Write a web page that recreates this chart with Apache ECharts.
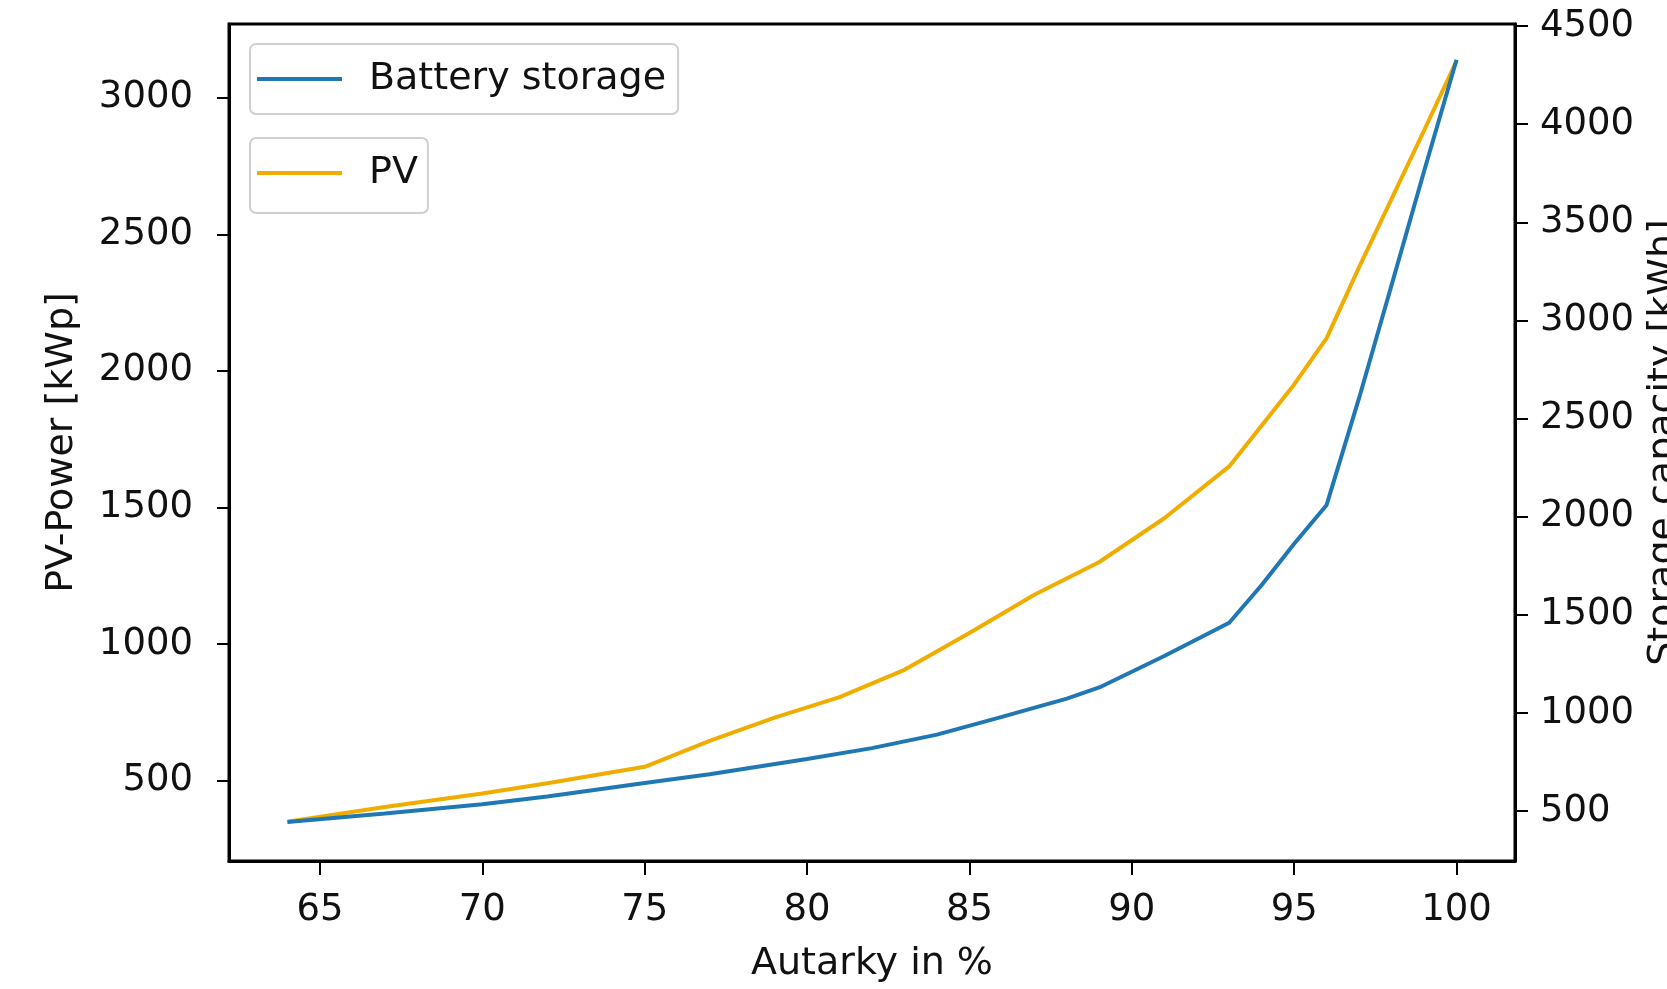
<!DOCTYPE html>
<html>
<head>
<meta charset="utf-8">
<script src="https://cdn.jsdelivr.net/npm/echarts@6/dist/echarts.min.js"></script>
<style>
html,body{margin:0;padding:0;background:#fff;}
#chart{width:1667px;height:989px;}
</style>
</head>
<body>
<div id="chart"></div>
<script>
// Data
const pvAutarky = [64, 67, 70, 72, 75, 77, 79, 81, 83, 85, 87, 89, 91, 93, 95, 96, 97, 98, 99, 100];
const pvPower   = [349, 403, 452, 490, 550, 645, 730, 805, 905, 1040, 1180, 1300, 1460, 1650, 1950, 2120, 2380, 2630, 2880, 3135];
const batAutarky = [64, 67, 70, 72, 75, 77, 80, 82, 84, 86, 88, 89, 91, 93, 94, 95, 96, 97, 98, 99, 100];
const batCapacity = [445, 488, 535, 575, 643, 688, 766, 821, 890, 980, 1073, 1130, 1290, 1460, 1652, 1862, 2060, 2605, 3180, 3760, 4328];
const xTicks = [65, 70, 75, 80, 85, 90, 95, 100];
const yLeftTicks = [500, 1000, 1500, 2000, 2500, 3000];
const yRightTicks = [500, 1000, 1500, 2000, 2500, 3000, 3500, 4000, 4500];

const pvData = pvAutarky.map((x, i) => [x, pvPower[i]]);
const batData = batAutarky.map((x, i) => [x, batCapacity[i]]);

const FONT = 'DejaVu Sans';
const TXT = '#111';
const FS = 37;
const plain = v => String(v);

const chart = echarts.init(document.getElementById('chart'), null, {renderer: 'canvas'});
chart.setOption({
  backgroundColor: '#fff',
  animation: false,
  textStyle: {fontFamily: FONT, color: TXT},
  grid: {left: 229, right: 152, top: 24, bottom: 128, outerBoundsMode: 'none', containLabel: false,
         show: true, borderColor: '#000', borderWidth: 3, backgroundColor: 'transparent'},
  legend: [
    {
      data: ['Battery storage'],
      left: 250, top: 44,
      orient: 'vertical',
      icon: 'rect',
      itemWidth: 85, itemHeight: 4,
      padding: [16, 12, 16, 7],
      borderColor: '#cfcfcf', borderWidth: 2, borderRadius: 6,
      backgroundColor: 'rgba(255,255,255,0.85)',
      textStyle: {fontFamily: FONT, fontSize: 38, color: TXT, padding: [0, 0, 0, 22]}
    },
    {
      data: ['PV'],
      left: 250, top: 138,
      orient: 'vertical',
      icon: 'rect',
      itemWidth: 85, itemHeight: 4,
      padding: [16, 10, 21, 7],
      borderColor: '#cfcfcf', borderWidth: 2, borderRadius: 6,
      backgroundColor: 'rgba(255,255,255,0.85)',
      textStyle: {fontFamily: FONT, fontSize: 38, color: TXT, padding: [0, 0, 0, 22]}
    }
  ],
  xAxis: {
    type: 'value',
    min: 62.2, max: 101.8,
    name: 'Autarky in %',
    nameLocation: 'middle',
    nameGap: 84,
    nameTextStyle: {fontFamily: FONT, fontSize: 38, color: TXT},
    axisLine: {show: true, lineStyle: {color: '#000', width: 3}},
    axisTick: {show: true, length: 14, lineStyle: {color: '#000', width: 2}, customValues: xTicks},
    axisLabel: {fontFamily: FONT, fontSize: FS, color: TXT, margin: 31, formatter: plain, customValues: xTicks},
    splitLine: {show: false}
  },
  yAxis: [
    {
      type: 'value',
      position: 'left',
      min: 205, max: 3270,
      name: 'PV-Power [kWp]',
      nameLocation: 'middle',
      nameRotate: 90,
      nameGap: 148,
      nameTextStyle: {fontFamily: FONT, fontSize: 38, color: TXT},
      axisLine: {show: true, lineStyle: {color: '#000', width: 3}},
      axisTick: {show: true, length: 12, lineStyle: {color: '#000', width: 2}, customValues: yLeftTicks},
      axisLabel: {fontFamily: FONT, fontSize: FS, color: TXT, margin: 36, formatter: plain, customValues: yLeftTicks},
      splitLine: {show: false}
    },
    {
      type: 'value',
      position: 'right',
      min: 246, max: 4510,
      name: 'Storage capacity [kWh]',
      nameLocation: 'middle',
      nameRotate: 90,
      nameGap: 128,
      nameTextStyle: {fontFamily: FONT, fontSize: 38, color: TXT},
      axisLine: {show: true, lineStyle: {color: '#000', width: 3}},
      axisTick: {show: true, length: 13, lineStyle: {color: '#000', width: 2}, customValues: yRightTicks},
      axisLabel: {fontFamily: FONT, fontSize: FS, color: TXT, margin: 25, formatter: plain, customValues: yRightTicks},
      splitLine: {show: false}
    }
  ],
  series: [
    {
      name: 'Battery storage',
      type: 'line',
      yAxisIndex: 1,
      data: batData,
      symbol: 'none',
      smooth: false,
      lineStyle: {color: '#1f77b4', width: 4},
      itemStyle: {color: '#1f77b4'},
      z: 3
    },
    {
      name: 'PV',
      type: 'line',
      yAxisIndex: 0,
      data: pvData,
      symbol: 'none',
      smooth: false,
      lineStyle: {color: '#f0ad00', width: 4},
      itemStyle: {color: '#f0ad00'},
      z: 2
    }
  ]
});
</script>
</body>
</html>
